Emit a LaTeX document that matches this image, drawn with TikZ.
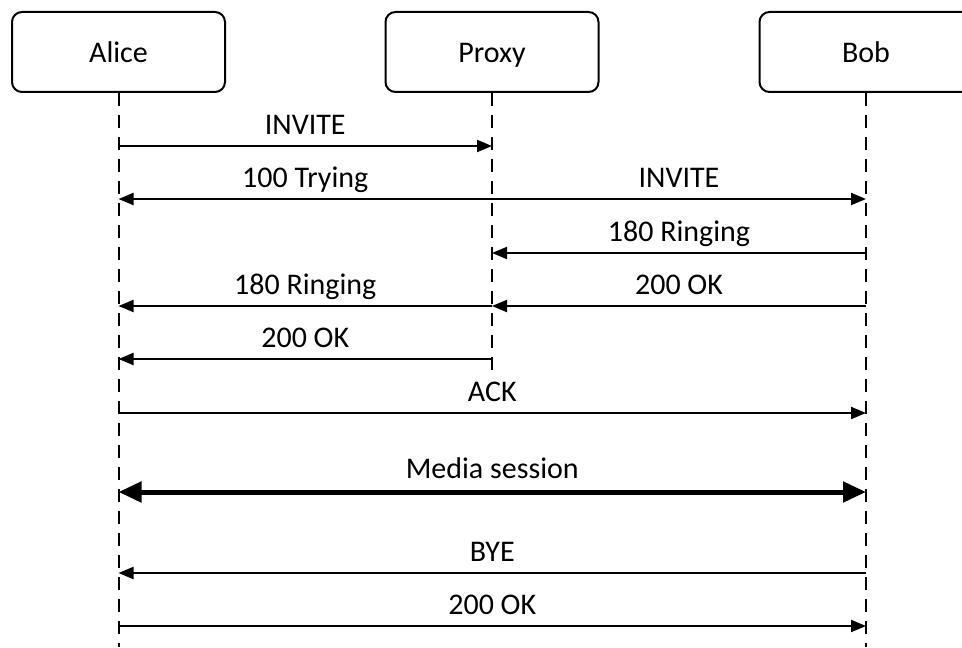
\documentclass[tikz,border=0pt]{standalone}
\usepackage{fontspec}
\setmainfont{Carlito}
\usepackage{tikz}
\usetikzlibrary{arrows.meta, positioning}

\begin{document}
\begin{tikzpicture}[x=0.5pt,y=-0.5pt,
  actor/.style={draw, line width=1pt, rounded corners=5pt, minimum width=106.5pt, minimum height=40pt, text height=12pt, text depth=2pt, font=\fontsize{15}{18}\selectfont},
  life/.style={line width=1pt, dash pattern=on 6.5pt off 4.5pt},
  msg/.style={line width=1pt, -{Triangle[length=7.5pt, width=6pt]}},
  media/.style={line width=2.5pt, {Triangle[length=11.5pt, width=10pt]}-{Triangle[length=11.5pt, width=10pt]}},
  lbl/.style={anchor=base, yshift=5.8pt, inner sep=0pt, font=\fontsize{15}{18}\selectfont}]
% \draw[help lines, dashed, red] (0,0) grid[step=50] (962,647);
\useasboundingbox (0,0) rectangle (962,647);
\node[actor] (alice) at (118.5,52) {Alice};
\node[actor] (proxy) at (492,52) {Proxy};
\node[actor] (bob) at (866,52) {Bob};
\coordinate (bottom) at (0,647);
\coordinate (proxyend) at (0,372);
\draw[life] (alice.south) -- (alice |- bottom);
\draw[life] (proxy.south) -- (proxy |- proxyend);
\draw[life] (bob.south) -- (bob |- bottom);
\coordinate (r1) at (0,146);
\coordinate (r2) at (0,199);
\coordinate (r3) at (0,253);
\coordinate (r4) at (0,306);
\coordinate (r5) at (0,359);
\coordinate (r6) at (0,413);
\coordinate (r7) at (0,492);
\coordinate (r8) at (0,573);
\coordinate (r9) at (0,626);
\draw[msg] (alice |- r1) -- node[lbl]{INVITE} (proxy |- r1);
\draw[msg] (proxy |- r2) -- node[lbl]{100 Trying} (alice |- r2);
\draw[msg] (proxy |- r2) -- node[lbl]{INVITE} (bob |- r2);
\draw[msg] (bob |- r3) -- node[lbl]{180 Ringing} (proxy |- r3);
\draw[msg] (proxy |- r4) -- node[lbl]{180 Ringing} (alice |- r4);
\draw[msg] (bob |- r4) -- node[lbl]{200 OK} (proxy |- r4);
\draw[msg] (proxy |- r5) -- node[lbl]{200 OK} (alice |- r5);
\draw[msg] (alice |- r6) -- node[lbl]{ACK} (bob |- r6);
\draw[media] (alice |- r7) -- node[lbl, yshift=1pt]{Media session} (bob |- r7);
\draw[msg] (bob |- r8) -- node[lbl]{BYE} (alice |- r8);
\draw[msg] (alice |- r9) -- node[lbl]{200 OK} (bob |- r9);
\end{tikzpicture}
\end{document}
